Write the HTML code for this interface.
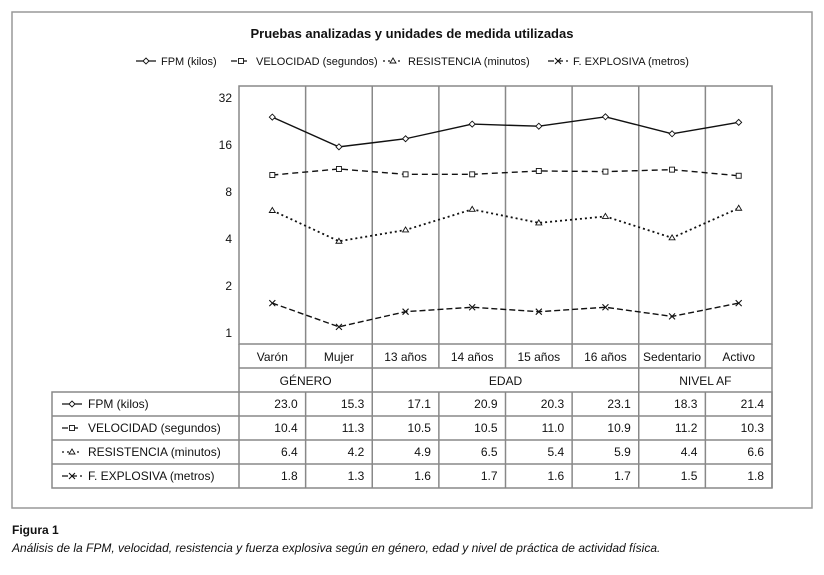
<!DOCTYPE html>
<html><head><meta charset="utf-8"><style>
body{margin:0;background:#fff;font-family:"Liberation Sans",Arial,sans-serif}
svg text{font-family:"Liberation Sans",Arial,sans-serif;fill:#111}
</style></head><body>
<svg id="c" width="824" height="570" xmlns="http://www.w3.org/2000/svg">
<rect x="12" y="12" width="800" height="496" fill="none" stroke="#999" stroke-width="1.5"/>
<text x="412" y="38" text-anchor="middle" font-size="13" font-weight="bold">Pruebas analizadas y unidades de medida utilizadas</text>
<g id="legend"></g>
<g id="plot"></g>
<text x="12" y="534" font-size="12" font-weight="bold">Figura 1</text>
<text x="12" y="552" font-size="12" font-style="italic">Análisis de la FPM, velocidad, resistencia y fuerza explosiva según en género, edad y nivel de práctica de actividad física.</text>
</svg>
<script>
const categories=["Varón","Mujer","13 años","14 años","15 años","16 años","Sedentario","Activo"];
const groups=[["GÉNERO",2],["EDAD",4],["NIVEL AF",2]];
const seriesNames=["FPM (kilos)","VELOCIDAD (segundos)","RESISTENCIA (minutos)","F. EXPLOSIVA (metros)"];
const fpm=[23.0,15.3,17.1,20.9,20.3,23.1,18.3,21.4];
const velocidad=[10.4,11.3,10.5,10.5,11.0,10.9,11.2,10.3];
const resistencia=[6.4,4.2,4.9,6.5,5.4,5.9,4.4,6.6];
const explosiva=[1.8,1.3,1.6,1.7,1.6,1.7,1.5,1.8];
const yTicks=[1,2,4,8,16,32];
const series=[fpm,velocidad,resistencia,explosiva];
const dashes=["","6,4","2,3","6,3"];
const markers=["diamond","square","triangle","x"];
const NS="http://www.w3.org/2000/svg";
const L=239,R=772,T=86,B=344,cw=(R-L)/categories.length;
const x=i=>L+cw*(i+0.5);
const yTick=v=>333-Math.log2(v)*47;
const y=v=>346-Math.log2(v)*50.6;
function el(t,a,p){const e=document.createElementNS(NS,t);for(const k in a)e.setAttribute(k,a[k]);p.appendChild(e);return e;}
function marker(g,type,cx,cy){
 let m;
 if(type=="diamond")m=el("path",{d:`M${cx} ${cy-3}L${cx+3} ${cy}L${cx} ${cy+3}L${cx-3} ${cy}Z`,fill:"#fff",stroke:"#111","stroke-width":0.9},g);
 else if(type=="square")m=el("rect",{x:cx-2.5,y:cy-2.5,width:5,height:5,fill:"#fff",stroke:"#111","stroke-width":0.9},g);
 else if(type=="triangle")m=el("path",{d:`M${cx} ${cy-3}L${cx+3} ${cy+2}L${cx-3} ${cy+2}Z`,fill:"#fff",stroke:"#111","stroke-width":0.9},g);
 else m=el("path",{d:`M${cx-3} ${cy-3}L${cx+3} ${cy+3}M${cx+3} ${cy-3}L${cx-3} ${cy+3}`,stroke:"#111","stroke-width":1.1,fill:"none"},g);
 return m;
}
const P=document.getElementById("plot");
const frame=el("rect",{x:L,y:T,width:R-L,height:B-T,fill:"none",stroke:"#888","stroke-width":1.5},P);


for(let i=1;i<categories.length;i++){
 const ln=el("line",{x1:L+cw*i,x2:L+cw*i,y1:T,y2:368,stroke:"#888","stroke-width":1.5},P);
 
 
}
yTicks.forEach(v=>{
 const t=el("text",{x:232,y:yTick(v)+4,"text-anchor":"end","font-size":12},P);t.textContent=v;
 
 
});
el("line",{x1:L,x2:L,y1:B,y2:488,stroke:"#888","stroke-width":1.5},P);
el("line",{x1:L,x2:R,y1:368,y2:368,stroke:"#888","stroke-width":1.5},P);
el("line",{x1:R,x2:R,y1:B,y2:488,stroke:"#888","stroke-width":1.5},P);
categories.forEach((c,i)=>{
 const t=el("text",{x:x(i),y:361,"text-anchor":"middle","font-size":12},P);t.textContent=c;
 
 
});
let gi=0;
groups.forEach(([n,k],j)=>{
 const t=el("text",{x:L+cw*(gi+k/2),y:385,"text-anchor":"middle","font-size":12},P);t.textContent=n;
 
 
 gi+=k;
 if(j<groups.length-1)el("line",{x1:L+cw*gi,x2:L+cw*gi,y1:368,y2:392,stroke:"#888","stroke-width":1.5},P);
});
const TL=52,RT=392,RH=24;
el("rect",{x:TL,y:RT,width:R-TL,height:RH*4,fill:"none",stroke:"#888","stroke-width":1.5},P);
for(let r=1;r<4;r++)el("line",{x1:TL,x2:R,y1:RT+RH*r,y2:RT+RH*r,stroke:"#888","stroke-width":1.5},P);
for(let i=1;i<categories.length;i++)el("line",{x1:L+cw*i,x2:L+cw*i,y1:RT,y2:RT+RH*4,stroke:"#888","stroke-width":1.5},P);
series.forEach((s,si)=>{
 const cy=RT+RH*si+12;
 const g=el("g",{},P);
 
 
 el("line",{x1:62,x2:82,y1:cy,y2:cy,stroke:"#111","stroke-width":1.3,"stroke-dasharray":dashes[si]},g);
 marker(g,markers[si],72,cy);
 const t=el("text",{x:88,y:cy+4,"font-size":12},g);t.textContent=seriesNames[si];
 s.forEach((v,i)=>{
  const c=el("text",{x:L+cw*(i+1)-8,y:cy+4,"text-anchor":"end","font-size":12},g);c.textContent=v.toFixed(1);
  
  
 });
});
series.forEach((s,si)=>{
 const g=el("g",{},P);
 
 
 el("polyline",{points:s.map((v,i)=>x(i)+","+y(v)).join(" "),fill:"none",stroke:"#111","stroke-width":si==2?1.8:1.4,"stroke-dasharray":dashes[si]},g);
 s.forEach((v,i)=>{
  const m=marker(g,markers[si],x(i),y(v));
  
  
 });
});
const LG=document.getElementById("legend");
const lx=[136,231,383,548];
seriesNames.forEach((n,si)=>{
 const g=el("g",{},LG);
 
 
 el("line",{x1:lx[si],x2:lx[si]+20,y1:61,y2:61,stroke:"#111","stroke-width":1.3,"stroke-dasharray":dashes[si]},g);
 marker(g,markers[si],lx[si]+10,61);
 const t=el("text",{x:lx[si]+25,y:65,"font-size":11},g);t.textContent=n;
});
</script>
</body></html>
